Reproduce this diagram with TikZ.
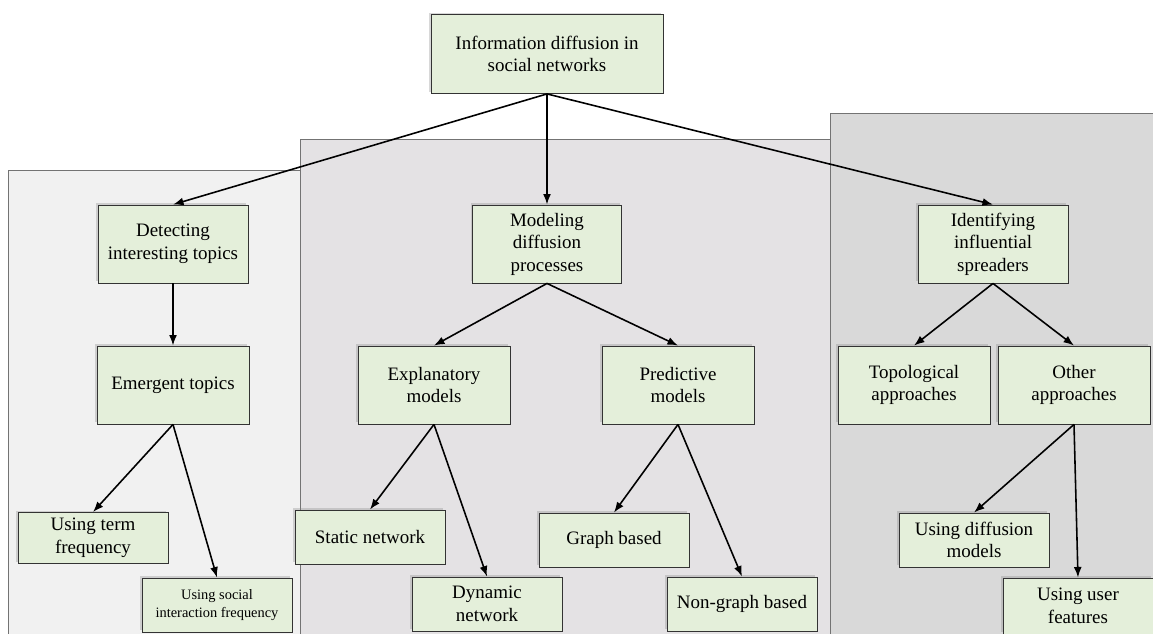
\documentclass[tikz,border=0pt]{standalone}
\usepackage{fontspec}
\setmainfont{Liberation Serif}
\usetikzlibrary{arrows.meta,shadows}
\definecolor{boxgreen}{HTML}{E4EFDA}
\definecolor{panelA}{HTML}{F1F1F1}
\definecolor{panelB}{HTML}{E4E2E4}
\definecolor{panelC}{HTML}{D9D9D9}
\begin{document}
\begin{tikzpicture}[x=0.02cm,y=-0.02cm,
	panel/.style={draw=black!55,line width=0.5pt},
	topic/.style={draw=black!80,fill=boxgreen,line width=0.5pt,align=center,inner sep=2pt,
		font=\fontsize{10.8}{12.8}\selectfont,minimum width=3cm,minimum height=1.56cm,
		drop shadow={shadow xshift=-1.1pt,shadow yshift=1.1pt,opacity=0.3}},
	leaf/.style={topic,minimum height=1.08cm},
	arr/.style={-{Latex[length=6pt,width=4.5pt]},line width=0.9pt}]
	\useasboundingbox (0,0) rectangle (1153,634);
	\fill[white] (0,0) rectangle (1153,634);
	\draw[panel,fill=panelA] (8,640) |- (300,170) -- (300,640);
	\draw[panel,fill=panelB] (300,640) |- (830,139) -- (830,640);
	\fill[panelC] (830,640) rectangle (1160,113);
	\draw[panel] (830,640) |- (1160,113);

	\node[topic,minimum width=4.64cm,minimum height=1.58cm] (root) at (547,54) {Information diffusion in\\social networks};

	\node[topic] (detect) at (173,244) {Detecting\\interesting topics};
	\node[topic,minimum width=2.98cm] (model) at (547,244) {Modeling\\diffusion\\processes};
	\node[topic] (ident) at (993,244) {Identifying\\influential\\spreaders};

	\node[topic,minimum width=3.04cm] (emerg) at (173,385) {Emergent topics};
	\node[topic,minimum width=3.04cm] (expl) at (434,385) {Explanatory\\models};
	\node[topic,minimum width=3.04cm] (pred) at (678,385) {Predictive\\models};
	\node[topic,minimum width=3.04cm] (topo) at (914,385) {Topological\\approaches};
	\node[topic,minimum width=3.04cm] (other) at (1074,385) {Other\\approaches};

	\node[leaf,minimum height=1.02cm] (term) at (93,538) {Using term\\frequency};
	\node[leaf,font=\fontsize{8.2}{9.8}\selectfont] (social) at (217,605) {Using social\\interaction frequency};
	\node[leaf] (static) at (370,537) {Static network};
	\node[leaf] (dyn) at (487,604) {Dynamic\\network};
	\node[leaf] (graph) at (614,540) {Graph based};
	\node[leaf] (nongraph) at (742,604) {Non-graph based};
	\node[leaf] (diffm) at (974,540) {Using diffusion\\models};
	\node[leaf,minimum height=1.12cm] (userf) at (1078,606) {Using user\\features};

	\foreach \a/\b in {root/detect,root/model,root/ident,detect/emerg,model/expl,model/pred,ident/topo,ident/other,
		emerg/term,emerg/social,expl/static,expl/dyn,pred/graph,pred/nongraph,other/diffm,other/userf}
		\draw[arr] (\a.south) -- (\b.north);
\end{tikzpicture}
\end{document}
